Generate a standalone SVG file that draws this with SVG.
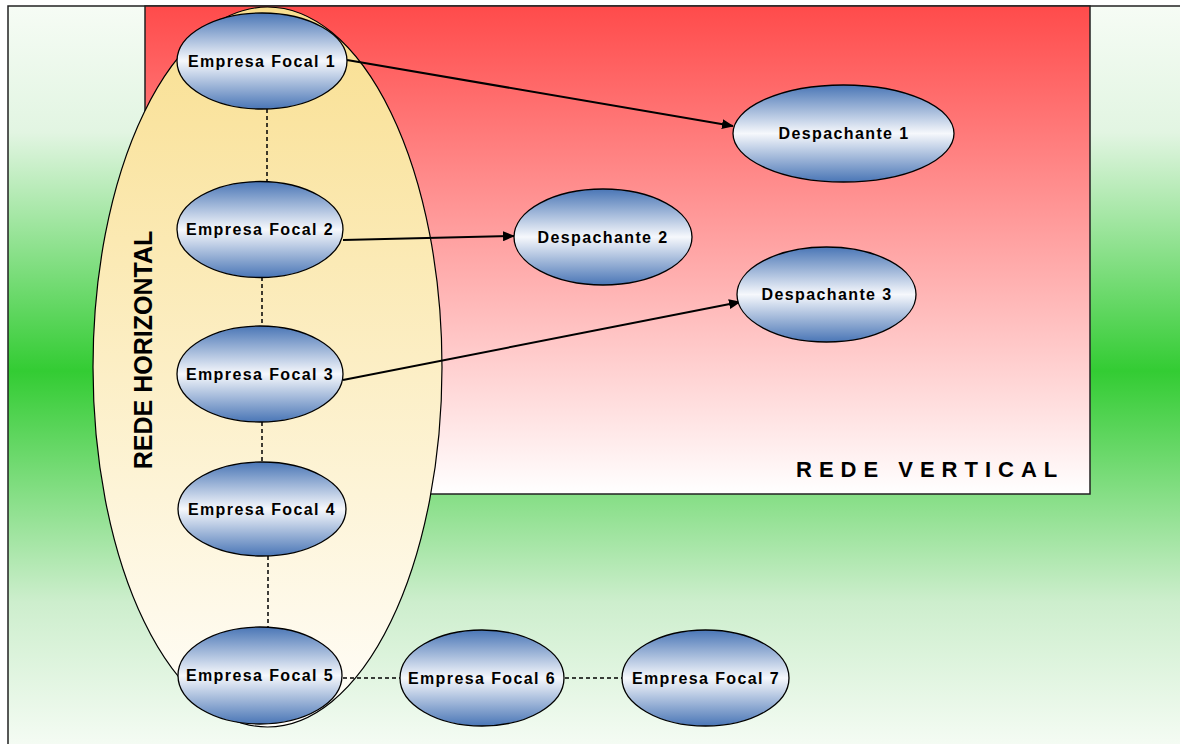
<svg xmlns="http://www.w3.org/2000/svg" width="1180" height="744" viewBox="0 0 1180 744">
<defs>
<linearGradient id="gGreen" x1="0" y1="0" x2="0" y2="1">
<stop offset="0" stop-color="#f6fcf5"/>
<stop offset="0.17" stop-color="#e2f5e2"/>
<stop offset="0.49" stop-color="#33cc33"/>
<stop offset="0.8" stop-color="#cdeecd"/>
<stop offset="1" stop-color="#f6fcf5"/>
</linearGradient>
<linearGradient id="gRed" x1="0" y1="0" x2="0" y2="1">
<stop offset="0" stop-color="#ff4b4b"/>
<stop offset="1" stop-color="#ffffff"/>
</linearGradient>
<linearGradient id="gYellow" x1="0" y1="0" x2="0" y2="1">
<stop offset="0" stop-color="#f9df90"/>
<stop offset="1" stop-color="#fffefa"/>
</linearGradient>
<linearGradient id="gNode" x1="0" y1="0" x2="0" y2="1">
<stop offset="0" stop-color="#4a76b6"/>
<stop offset="0.5" stop-color="#f6f8fc"/>
<stop offset="1" stop-color="#4a76b6"/>
</linearGradient>
<marker id="arr" markerWidth="12" markerHeight="10" refX="11" refY="5" orient="auto" markerUnits="userSpaceOnUse">
<path d="M0,0 L12,5 L0,10 Z" fill="#000"/>
</marker>
<style>
.node ellipse{fill:url(#gNode);stroke:#000;stroke-width:1.3}
.node text{font-family:"Liberation Sans",Arial,sans-serif;font-weight:bold;font-size:16px;letter-spacing:1.4px;text-anchor:middle;fill:#000}
.arrow{stroke:#000;stroke-width:2;fill:none;marker-end:url(#arr)}
.dash{stroke:#000;stroke-width:1.5;stroke-dasharray:4,3;fill:none}
.big{font-family:"Liberation Sans",Arial,sans-serif;font-weight:bold;fill:#000}
</style>
</defs>
<g id="background">
<rect x="8" y="6" width="1180" height="745" fill="url(#gGreen)" stroke="#222" stroke-width="1.5"/>
<rect x="145" y="6" width="945" height="488" fill="url(#gRed)" stroke="#222" stroke-width="1.5"/>
<text class="big" x="796" y="477" font-size="22" letter-spacing="7">REDE VERTICAL</text>
</g>
<g id="rede-horizontal">
<ellipse cx="267.5" cy="367" rx="174.5" ry="360" fill="url(#gYellow)" stroke="#000" stroke-width="1.2"/>
<text class="big" transform="translate(152,350) rotate(-90)" font-size="25" text-anchor="middle">REDE HORIZONTAL</text>
</g>
<g id="connectors">
<line class="arrow" x1="347" y1="60" x2="733" y2="126"/>
<line class="arrow" x1="343" y1="240" x2="514" y2="236"/>
<line class="arrow" x1="343" y1="380" x2="740" y2="302"/>
<line class="dash" x1="267" y1="109" x2="267" y2="181"/>
<line class="dash" x1="262" y1="277" x2="262" y2="326"/>
<line class="dash" x1="262" y1="422" x2="262" y2="462"/>
<line class="dash" x1="268" y1="556" x2="268" y2="627"/>
<line class="dash" x1="343" y1="678" x2="400" y2="678"/>
<line class="dash" x1="565" y1="678" x2="622" y2="678"/>
</g>
<g id="ef1" class="node"><ellipse cx="262" cy="61" rx="85" ry="48"/><text x="262" y="67">Empresa Focal 1</text></g>
<g id="ef2" class="node"><ellipse cx="260" cy="229.5" rx="83" ry="48"/><text x="260" y="235">Empresa Focal 2</text></g>
<g id="ef3" class="node"><ellipse cx="260" cy="374" rx="83" ry="48"/><text x="260" y="380">Empresa Focal 3</text></g>
<g id="ef4" class="node"><ellipse cx="262" cy="509" rx="84" ry="47"/><text x="262" y="515">Empresa Focal 4</text></g>
<g id="ef5" class="node"><ellipse cx="260" cy="675.5" rx="82" ry="48.5"/><text x="260" y="681">Empresa Focal 5</text></g>
<g id="ef6" class="node"><ellipse cx="482" cy="678" rx="82" ry="48"/><text x="482" y="684">Empresa Focal 6</text></g>
<g id="ef7" class="node"><ellipse cx="705.5" cy="678" rx="83.5" ry="48"/><text x="706" y="684">Empresa Focal 7</text></g>
<g id="d1" class="node"><ellipse cx="843.5" cy="133.5" rx="110.5" ry="48.5"/><text x="844" y="139">Despachante 1</text></g>
<g id="d2" class="node"><ellipse cx="603" cy="237" rx="89" ry="48"/><text x="603" y="243">Despachante 2</text></g>
<g id="d3" class="node"><ellipse cx="826.5" cy="294.5" rx="89.5" ry="47.5"/><text x="827" y="300">Despachante 3</text></g>
</svg>
